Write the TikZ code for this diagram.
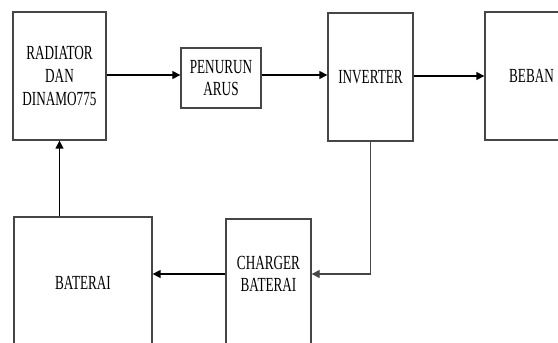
\documentclass[tikz,border=0pt]{standalone}
\usepackage{fontspec}
\setmainfont{Liberation Serif}[FakeStretch=0.66]
\usepackage{tikz}
\usetikzlibrary{arrows.meta}
\definecolor{GarisKotak}{RGB}{70,70,70}

\begin{document}
\begin{tikzpicture}[x=0.75pt,y=-0.75pt,>={Triangle[length=6pt,width=6pt]},
  kotak/.style 2 args={draw=GarisKotak,line width=1pt,inner sep=0pt,
    minimum width={#1*0.75pt},minimum height={#2*0.75pt}},
  tulisan/.style={align=center,font=\fontsize{15}{17}\selectfont},
  panah/.style={->,line width=1.1pt}]
  % Bingkai gambar
  \useasboundingbox[fill=white] (0,0) rectangle (558,343);
  \clip (0,0) rectangle (558,343);

  % Baris atas
  \node[kotak={93}{128},tulisan] (radiator) at (59.5,76) {RADIATOR\\DAN\\DINAMO775};
  \node[kotak={80}{60},tulisan] (penurun) at (221,78) {PENURUN\\ARUS};
  \node[kotak={85}{128},tulisan] (inverter) at (370.5,77) {INVERTER};
  \node[kotak={93}{128},tulisan] (beban) at (531.5,76) {BEBAN};

  % Baris bawah (terpotong di tepi bawah)
  \node[kotak={138}{132},tulisan] (baterai) at (83,283) {BATERAI};
  \node[kotak={85}{128}] (charger) at (268.5,283) {};
  \node[tulisan] (chargertxt) at (268.5,274) {CHARGER\\BATERAI};

  % Aliran
  \draw[panah] (radiator.east |- 0,75) -- (penurun.west |- 0,75);
  \draw[panah] (penurun.east |- 0,75) -- (inverter.west |- 0,75);
  \draw[panah] (inverter.east |- 0,76) -- (beban.west |- 0,76);
  \draw[panah,line width=0.8pt,draw=GarisKotak] (inverter.south) |- (chargertxt -| charger.east);
  \draw[panah] (chargertxt -| charger.west) -- (chargertxt -| baterai.east);
  \draw[panah] (radiator.south |- baterai.north) -- (radiator.south);
\end{tikzpicture}
\end{document}
